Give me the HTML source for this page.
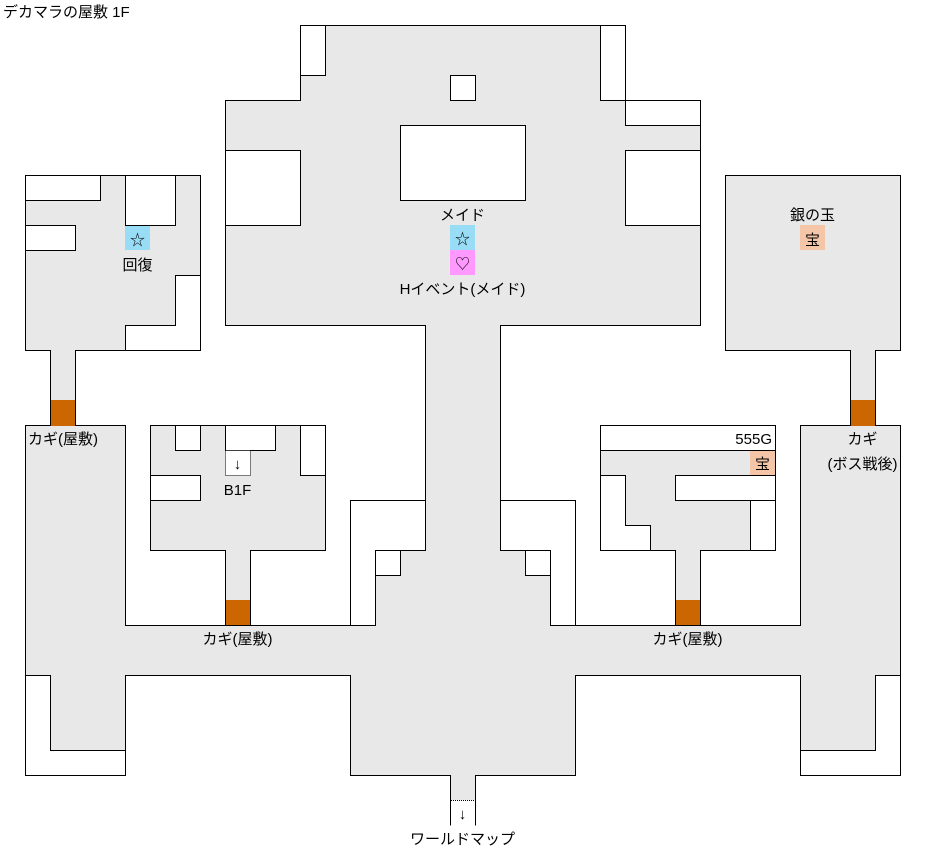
<!DOCTYPE html>
<html><head><meta charset="utf-8"><style>
html,body{margin:0;padding:0;background:#fff;width:926px;height:855px;overflow:hidden}
svg{display:block}
text{font-family:"Liberation Sans","Noto Sans CJK JP",sans-serif;font-size:15px;fill:#000}
</style></head><body>
<svg width="926" height="855" viewBox="0 0 926 855" xmlns="http://www.w3.org/2000/svg" shape-rendering="crispEdges">
<g transform="translate(0.5,0.5)" stroke="#000" stroke-width="1">
<!-- main region -->
<polygon fill="#e8e8e8" points="300,25 625,25 625,100 700,100 700,325 500,325 500,550 525,550 525,575 550,575 550,625 800,625 800,425 900,425 900,775 800,775 800,675 575,675 575,775 475,775 475,800 450,800 450,775 350,775 350,675 125,675 125,775 25,775 25,425 125,425 125,625 375,625 375,575 400,575 400,550 425,550 425,325 225,325 225,100 300,100"/>
<!-- main hall obstacles -->
<rect x="300" y="25" width="25" height="50" fill="#fff"/>
<rect x="600" y="25" width="25" height="75" fill="#fff"/>
<rect x="625" y="100" width="75" height="25" fill="#fff"/>
<rect x="450" y="75" width="25" height="25" fill="#fff"/>
<rect x="400" y="125" width="125" height="75" fill="#fff"/>
<rect x="225" y="150" width="75" height="75" fill="#fff"/>
<rect x="625" y="150" width="75" height="75" fill="#fff"/>
<!-- corridor blocks -->
<polygon fill="#fff" points="350,500 425,500 425,550 400,550 400,575 375,575 375,625 350,625"/>
<rect x="375" y="550" width="25" height="25" fill="#fff"/>
<polygon fill="#fff" points="500,500 575,500 575,625 550,625 550,575 525,575 525,550 500,550"/>
<rect x="525" y="550" width="25" height="25" fill="#fff"/>
<!-- bottom L shapes -->
<polygon fill="#fff" points="25,675 50,675 50,750 125,750 125,775 25,775"/>
<polygon fill="#fff" points="900,675 875,675 875,750 800,750 800,775 900,775"/>
<!-- top-left room -->
<polygon fill="#e8e8e8" points="25,175 200,175 200,350 75,350 75,425 50,425 50,350 25,350"/>
<rect x="25" y="175" width="75" height="25" fill="#fff"/>
<rect x="125" y="175" width="50" height="50" fill="#fff"/>
<rect x="25" y="225" width="50" height="25" fill="#fff"/>
<polygon fill="#fff" points="175,275 200,275 200,350 125,350 125,325 175,325"/>
<!-- B1F room -->
<polygon fill="#e8e8e8" points="150,425 325,425 325,550 250,550 250,625 225,625 225,550 150,550"/>
<rect x="175" y="425" width="25" height="25" fill="#fff"/>
<rect x="225" y="425" width="50" height="25" fill="#fff"/>
<rect x="300" y="425" width="25" height="50" fill="#fff"/>
<rect x="150" y="475" width="50" height="25" fill="#fff"/>
<!-- 555G room -->
<polygon fill="#e8e8e8" points="600,425 775,425 775,550 700,550 700,625 675,625 675,550 600,550"/>
<rect x="600" y="425" width="175" height="25" fill="#fff"/>
<polygon fill="#fff" points="600,475 625,475 625,525 650,525 650,550 600,550"/>
<rect x="675" y="475" width="100" height="25" fill="#fff"/>
<rect x="750" y="500" width="25" height="50" fill="#fff"/>
<!-- right room -->
<polygon fill="#e8e8e8" points="725,175 900,175 900,350 875,350 875,425 850,425 850,350 725,350"/>
<!-- exit -->
<line x1="450" y1="800" x2="450" y2="825"/>
<line x1="475" y1="800" x2="475" y2="825"/>
</g>
<!-- exit dotted line -->
<line x1="451" y1="800.5" x2="475" y2="800.5" stroke="#fff" stroke-width="1"/>
<line x1="451" y1="800.5" x2="475" y2="800.5" stroke="#000" stroke-width="1" stroke-dasharray="1,1"/>
<!-- B1F dotted box -->
<rect x="225.5" y="450.5" width="25" height="25" fill="#fff" stroke="#000" stroke-dasharray="1,1"/>
<!-- doors -->
<g fill="#cc6600">
<rect x="51" y="400" width="24" height="26"/>
<rect x="226" y="600" width="24" height="25"/>
<rect x="676" y="600" width="24" height="25"/>
<rect x="851" y="400" width="24" height="26"/>
</g>
<!-- markers -->
<rect x="125" y="226" width="25" height="24" fill="#99dcf5"/>
<rect x="450" y="225" width="25" height="25" fill="#99dcf5"/>
<rect x="450" y="250" width="25" height="25" fill="#ff99ff"/>
<rect x="800" y="225" width="25" height="25" fill="#f5c5a8"/>
<rect x="750" y="451" width="25" height="24" fill="#f5c5a8"/>
<!-- text -->
<text x="3" y="17">デカマラの屋敷 1F</text>
<text x="137.5" y="245" text-anchor="middle">☆</text>
<text x="137.5" y="270" text-anchor="middle">回復</text>
<text x="462.5" y="220" text-anchor="middle">メイド</text>
<text x="462.5" y="244" text-anchor="middle">☆</text>
<text x="462.5" y="269" text-anchor="middle" font-size="13">♡</text>
<text x="462.5" y="294" text-anchor="middle">Hイベント(メイド)</text>
<text x="812.5" y="220" text-anchor="middle">銀の玉</text>
<text x="812.5" y="245" text-anchor="middle">宝</text>
<text x="28" y="444">カギ(屋敷)</text>
<text x="862.5" y="444" text-anchor="middle">カギ</text>
<text x="862.5" y="469" text-anchor="middle">(ボス戦後)</text>
<text x="237.5" y="469" text-anchor="middle">↓</text>
<text x="237.5" y="495" text-anchor="middle">B1F</text>
<text x="772" y="444" text-anchor="end">555G</text>
<text x="762.5" y="469" text-anchor="middle">宝</text>
<text x="237.5" y="644" text-anchor="middle">カギ(屋敷)</text>
<text x="687.5" y="644" text-anchor="middle">カギ(屋敷)</text>
<text x="462.5" y="819" text-anchor="middle">↓</text>
<text x="462.5" y="844" text-anchor="middle">ワールドマップ</text>
</svg>
</body></html>
